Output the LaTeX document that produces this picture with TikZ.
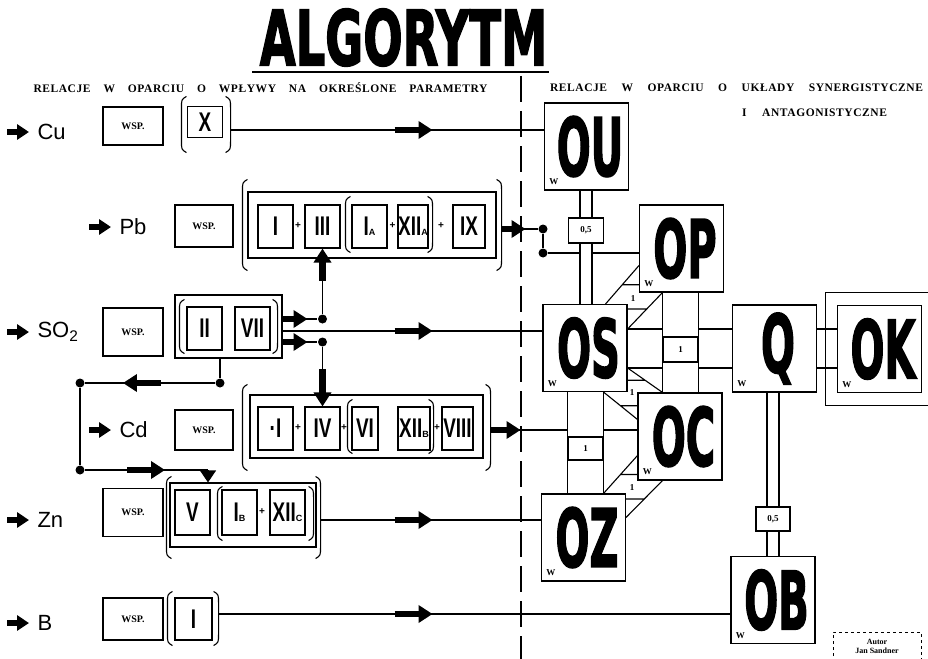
\documentclass[tikz,border=0pt]{standalone}
\usepackage{fontspec}
\usepackage{graphicx}
\setmainfont{Liberation Serif}
\newfontfamily\numfont{Liberation Sans}
\newfontfamily\heavyfont{DejaVu Sans Bold}[FakeBold=2.5]
\usetikzlibrary{arrows.meta,calc,decorations.markings}

% roman numerals in the boxes, and their small index letters
\newcommand\rn[1]{\scalebox{0.7}[1]{\numfont\bfseries\fontsize{27}{27}\selectfont #1}}
\newcommand\sub[1]{{\numfont\bfseries\fontsize{9}{9}\selectfont #1}}
% big condensed names of the blocks
\newcommand\bigname[1]{\hspace*{7pt}\scalebox{0.5}[1]{#1}}
% a pair of tall round brackets round a node
\newcommand\parpair[1]{%
  \draw ([xshift=5pt]#1.north west) .. controls ([yshift=-3pt]#1.north west) .. ([yshift=-12pt]#1.north west)
     -- ([yshift=12pt]#1.south west) .. controls ([yshift=3pt]#1.south west) .. ([xshift=5pt]#1.south west);
  \draw ([xshift=-5pt]#1.north east) .. controls ([yshift=-3pt]#1.north east) .. ([yshift=-12pt]#1.north east)
     -- ([yshift=12pt]#1.south east) .. controls ([yshift=3pt]#1.south east) .. ([xshift=-5pt]#1.south east);}

\tikzset{
  elbox/.style  = {draw, line width=1.1pt,      % small box with a numeral
                   minimum width=35pt, minimum height=43pt,
                   inner sep=0pt},
  wspbox/.style = {draw, line width=1.1pt,      % WSP. box
                   minimum width=60pt, minimum height=40pt,
                   inner sep=0pt, font=\bfseries\fontsize{10}{10}\selectfont},
  frame/.style  = {draw, line width=1.1pt, inner sep=0pt},
  grp/.style    = {inner sep=0pt},              % invisible, carries brackets
  plus/.style   = {inner sep=0pt, font=\numfont\bfseries\fontsize{10}{10}\selectfont},
  elem/.style   = {anchor=west, inner sep=0pt, font=\numfont\fontsize{22}{22}\selectfont},
  hdr/.style    = {inner sep=0pt, font=\bfseries\fontsize{11.5}{12}\selectfont\addfontfeature{LetterSpace=5}},
  bigbox/.style = {draw, line width=1.2pt,      % OU, OP, OS ...
                   minimum width=84pt, minimum height=87pt,
                   inner sep=0pt, font=\heavyfont\fontsize{80}{80}\selectfont,
                   label={[wlab]south west:W}},
  wlab/.style   = {anchor=south west, xshift=5pt, yshift=5pt,
                   inner sep=0pt, font=\bfseries\fontsize{9}{9}\selectfont},
  tinybox/.style= {draw, line width=1.1pt, minimum width=35pt, minimum height=25pt,
                   inner sep=0pt, font=\bfseries\fontsize{9}{9}\selectfont},
  onelab/.style = {inner sep=0pt, font=\bfseries\fontsize{9}{9}\selectfont},
  dot/.style    = {circle, fill, inner sep=0pt, minimum size=9pt},
  fat/.style    = {line width=6.5pt, -{Triangle[length=14pt,width=17pt]}},
  fatS/.style   = {line width=6pt, -{Triangle[length=12pt,width=15pt]}},
  fatat/.style  = {postaction={decorate},
                   decoration={markings, mark=at position #1 with {\draw[fat] (-38pt,0pt) -- (0pt,0pt);}}},
}

\begin{document}
\begin{tikzpicture}[x=1pt, y=-1pt, line width=1.1pt]
\useasboundingbox (0,0) rectangle (928,658);

% title and headings
\node[inner sep=0pt, font=\heavyfont\fontsize{76}{76}\selectfont] (title) at (403.5,37.5) {\scalebox{0.61}[1]{ALGORYTM}};
\draw[line width=2.5pt] ([shift={(-7pt,-5pt)}]title.south west) -- ([shift={(1pt,-5pt)}]title.south east);
\node[hdr] (hdL) at (260.5,88) {\makebox[454pt][s]{RELACJE W OPARCIU O WPŁYWY NA OKREŚLONE PARAMETRY}};
\node[hdr] (hdR1) at (736.5,88) {\makebox[373pt][s]{RELACJE W OPARCIU O UKŁADY SYNERGISTYCZNE}};
\node[hdr] (hdR2) at (814.5,113) {\makebox[145pt][s]{I ANTAGONISTYCZNE}};
\draw[line width=1.3pt, dash pattern=on 26pt off 9pt] (521,76) -- (521,662);

% Cu
\node[elem] (cuL) at (37,132) {Cu};
\node[wspbox, minimum height=38pt] (cuW) at (133,126) {WSP.};
\node[grp, minimum width=48pt, minimum height=55pt] (cuG) at (206,124.5) {};
\node[elbox, minimum height=31pt] (cuX) at (205,122) {\rn{X}};
\parpair{cuG}

% Pb
\node[elem] (pbL) at (119,227) {Pb};
\node[wspbox, minimum width=58pt, minimum height=42pt] (pbW) at (204,226) {WSP.};
\node[grp, minimum width=258pt, minimum height=90pt] (pbG) at (372,225) {};
\node[frame, minimum width=248pt, minimum height=66pt] (pbR) at (372,225) {};
\node[elbox] (pbI) at (275.5,226.5) {\rn{I}};
\node[plus] (pbP1) at (298,226) {+};
\node[elbox] (pbIII) at (322.5,226.5) {\rn{III}};
\node[grp, minimum width=86pt, minimum height=55pt] (pbH) at (389,224.5) {};
\node[elbox] (pbIA) at (369.5,226.5) {\rn{I}\sub{A}};
\node[plus] (pbP2) at (392.5,226) {+};
\node[elbox, minimum width=30pt] (pbXII) at (413,226.5) {\rn{XII}\sub{A}};
\node[plus] (pbP3) at (441,226) {+};
\node[elbox, minimum width=32pt] (pbIX) at (469,226.5) {\rn{IX}};
\parpair{pbG}
\parpair{pbH}

% SO2
\node[elem] (so2L) at (37,332) {SO\textsubscript{2}};
\node[wspbox, minimum height=48pt] (so2W) at (133,332) {WSP.};
\node[frame, minimum width=107pt, minimum height=63pt] (so2R) at (228.5,326.5) {};
\node[grp, minimum width=97pt, minimum height=53pt] (so2G) at (228.5,326.5) {};
\node[elbox] (so2II) at (204.5,328.5) {\rn{II}};
\node[elbox] (so2VII) at (252.5,328.5) {\rn{VII}};
\parpair{so2G}

% Cd
\node[elem] (cdL) at (119,430) {Cd};
\node[wspbox, minimum width=58pt] (cdW) at (204,430) {WSP.};
\node[grp, minimum width=247pt, minimum height=85pt] (cdG) at (366.5,427.5) {};
\node[frame, minimum width=233pt, minimum height=63pt] (cdR) at (366.5,426.5) {};
\node[elbox] (cdI) at (275.5,428.5) {\rn{·I}};
\node[plus] (cdP1) at (298,428) {+};
\node[elbox] (cdIV) at (322.5,428.5) {\rn{IV}};
\node[plus] (cdP2) at (344,428) {+};
\node[grp, minimum width=85pt, minimum height=53pt] (cdH) at (390.5,426.5) {};
\node[elbox, minimum width=26pt] (cdVI) at (365,428.5) {\rn{VI}};
\node[elbox, minimum width=32pt] (cdXII) at (414,428.5) {\rn{XII}\sub{B}};
\node[plus] (cdP3) at (437,428) {+};
\node[elbox, minimum width=31pt] (cdVIII) at (457.5,428.5) {\rn{VIII}};
\parpair{cdG}
\parpair{cdH}

% Zn
\node[elem] (znL) at (37,520) {Zn};
\node[wspbox, minimum height=48pt] (znW) at (133,512.5) {WSP.};
\node[grp, minimum width=153pt, minimum height=81pt] (znG) at (243.5,517.5) {};
\node[frame, minimum width=146pt, minimum height=64pt] (znR) at (243,515) {};
\node[elbox, minimum height=45pt] (znV) at (192.5,512.5) {\rn{V}};
\node[grp, minimum width=95pt, minimum height=53pt] (znH) at (265.5,513.5) {};
\node[elbox, minimum height=45pt] (znIB) at (239.5,512.5) {\rn{I}\sub{B}};
\node[plus] (znP) at (262,512) {+};
\node[elbox, minimum height=45pt] (znXII) at (287.5,512.5) {\rn{XII}\sub{C}};
\parpair{znG}
\parpair{znH}

% B
\node[elem] (bL) at (37,623) {B};
\node[wspbox, minimum height=42pt] (bW) at (133,619) {WSP.};
\node[grp, minimum width=50pt, minimum height=53pt] (bG) at (193,618.5) {};
\node[elbox, minimum width=37pt, minimum height=42pt] (bI) at (193.5,619) {\rn{I}};
\parpair{bG}

% arrows in front of the elements
\foreach \el in {cuL,pbL,so2L,cdL,znL,bL}
  \draw[fatS] ([xshift=-30pt]\el.west) -- ([xshift=-8pt]\el.west);

% blocks on the right
\node[bigbox] (ou) at (586.5,146.5) {\bigname{OU}};
\node[bigbox] (op) at (681.5,248.5) {\bigname{OP}};
\node[bigbox] (os) at (585,348)     {\bigname{OS}};
\node[bigbox] (oc) at (680,436.5)   {\bigname{OC}};
\node[bigbox] (oz) at (583.5,537.5) {\bigname{OZ}};
\node[bigbox] (q)  at (774.5,348.5) {\bigname{Q}};
\node[bigbox] (ok) at (879.5,349)   {\bigname{OK}};
\node[bigbox] (ob) at (773,600)     {\bigname{OB}};

\node[tinybox] (ou05) at (586,230.5) {0,5};
\node[tinybox] (pc1) at (680.5,349.5) {1};
\node[tinybox, minimum height=23pt] (sz1) at (585.5,448.5) {1};
\node[tinybox, minimum width=34pt, minimum height=24pt] (qb05) at (773,519) {0,5};

% dots
\node[dot] (dUp) at (322.5,319) {};
\node[dot] (dLo) at (322.5,342) {};
\node[dot] (dA)  at (220,383) {};
\node[dot] (dB)  at (80,383) {};
\node[dot] (dC)  at (80,470) {};
\node[dot] (dP1) at (543,229) {};
\node[dot] (dP2) at (543,253) {};

% outputs of the rows
\coordinate (cuOut)  at ([yshift=-5.5pt]cuG.east);
\coordinate (pbOut)  at ([yshift=-4pt]pbG.east);
\coordinate (so2Up)  at ([yshift=7.5pt]so2R.east);
\coordinate (so2Mid) at ([yshift=-4.5pt]so2R.east);
\coordinate (so2Lo)  at ([yshift=-15.5pt]so2R.east);
\coordinate (cdOut)  at ([yshift=-2.5pt]cdG.east);
\coordinate (znOut)  at ([yshift=-2.5pt]znG.east);
\coordinate (bOut)   at ([yshift=4.5pt]bG.east);
\coordinate (znT)    at (208,470);
\coordinate (uL) at ([xshift=-6pt]ou05.center);
\coordinate (uR) at ([xshift=6pt]ou05.center);
\coordinate (qL) at ([xshift=-6pt]qb05.center);
\coordinate (qR) at ([xshift=6pt]qb05.center);

\draw[fatat=202pt] (cuOut) -- (cuOut -| ou.west);
\draw (pbOut) -- (dP1) -- (dP2) -- (dP2 -| uL);
\draw (dP2 -| uR) -- (dP2 -| op.west);
\draw[fat] (pbOut) -- ++(24,0);
\draw (so2Up) -- (dUp) -- (pbIII.south);
\draw[fat] (so2Up) -- ++(25,0);
\draw[fat] ([yshift=-32pt]pbIII.south) -- (pbIII.south);
\draw[fatat=150pt] (so2Mid) -- (so2Mid -| os.west);
\draw (so2Lo) -- (dLo) -- (cdIV.north);
\draw[fat] (so2Lo) -- ++(25,0);
\draw[fat] ([yshift=37pt]cdIV.north) -- (cdIV.north);
\draw (dA |- so2R.south) -- (dA);
\draw[fatat=92pt] (dA) -- (dB);
\draw (dB) -- (dC);
\draw[fatat=80pt] (dC) -- (znT);
\draw[-{Triangle[length=12pt,width=16pt]}] (znT) -- (znT |- znR.north);
\draw (cdOut) -- (cdOut -| sz1.west);
\draw[fat] (cdOut) -- ++(30,0);
\draw (cdOut -| sz1.east) -- (cdOut -| oc.west);
\draw[fatat=112pt] (znOut) -- (znOut -| oz.west);
\draw[fatat=214pt] (bOut) -- (bOut -| ob.west);

% links between the blocks
\draw (uL |- ou.south) -- (uL |- ou05.north) (uL |- ou05.south) -- (uL |- os.north);
\draw (uR |- ou.south) -- (uR |- ou05.north) (uR |- ou05.south) -- (uR |- os.north);
\draw (qL |- q.south) -- (qL |- qb05.north) (qL |- qb05.south) -- (qL |- ob.north);
\draw (qR |- q.south) -- (qR |- qb05.north) (qR |- qb05.south) -- (qR |- ob.north);
\draw (pc1.north west) -- (pc1.north west |- op.south) (pc1.north east) -- (pc1.north east |- op.south);
\draw (pc1.south west) -- (pc1.south west |- oc.north) (pc1.south east) -- (pc1.south east |- oc.north);
\draw (sz1.north west) -- (sz1.north west |- os.south) (sz1.north east) -- (sz1.north east |- os.south);
\draw (sz1.south west) -- (sz1.south west |- oz.north) (sz1.south east) -- (sz1.south east |- oz.north);

\coordinate (osq1) at ([yshift=19pt]os.east);
\coordinate (osq2) at ([yshift=-20pt]os.east);
\foreach \c in {osq1,osq2}
  \draw (\c) -- (\c -| pc1.west) (\c -| pc1.east) -- (\c -| q.west) (\c -| q.east) -- (\c -| ok.west);
\coordinate (okA) at ([shift={(-11pt,12pt)}]ok.north west);
\coordinate (okB) at ([shift={(-11pt,-12pt)}]ok.south west);
\draw (okA) ++(120,0) -- (okA) -- (okB) -- ++(120,0);

% OS - OP
\coordinate (spA) at ([xshift=-22pt]os.north east);
\coordinate (spB) at ([yshift=27pt]op.south west);
\coordinate (spD) at (pc1.north west |- op.south);
\coordinate (spM) at ($(spA)!0.5!(spB)$);
\coordinate (spN) at ($(osq1)!0.55!(spD)$);
\draw (spA) -- (spB) (spM) -- (spM -| op.west);
\draw (osq1) -- (spD) (spN) -- (spN -| os.east);
\node[onelab] (spL) at (633,299) {1};
% OS - OC
\coordinate (scD) at (pc1.south west |- oc.north);
\coordinate (scA) at (sz1.north east |- os.south);
\coordinate (scB) at ([yshift=-27pt]oc.north west);
\coordinate (scM) at ($(osq2)!0.5!(scD)$);
\coordinate (scN) at ($(scA)!0.5!(scB)$);
\draw (osq2) -- (scD) (scM) -- (scM -| os.east);
\draw (scA) -- (scB) (scN) -- (scN -| oc.west);
\node[onelab] (scL) at (632,393) {1};
% OC - OZ
\coordinate (czA) at (sz1.south east |- oz.north);
\coordinate (czB) at ([yshift=25pt]oc.south west);
\coordinate (czC) at ([yshift=-24pt]oz.north east);
\coordinate (czD) at ([xshift=25pt]oc.south west);
\coordinate (czM) at ($(czA)!0.5!(czB)$);
\coordinate (czN) at ($(czC)!0.5!(czD)$);
\draw (czA) -- (czB) (czM) -- (czM -| oc.west);
\draw (czC) -- (czD) (czN) -- (czN -| oz.east);
\node[onelab] (czL) at (632,488) {1};

% author
\node[inner sep=0pt, align=center, font=\bfseries\fontsize{8}{9}\selectfont] (autor) at (877,646) {Autor\\Jan Sandner};
\draw[dashed, line width=0.8pt] (833,662) -- (833,632) -- (921,632) -- (921,662);
\end{tikzpicture}
\end{document}
